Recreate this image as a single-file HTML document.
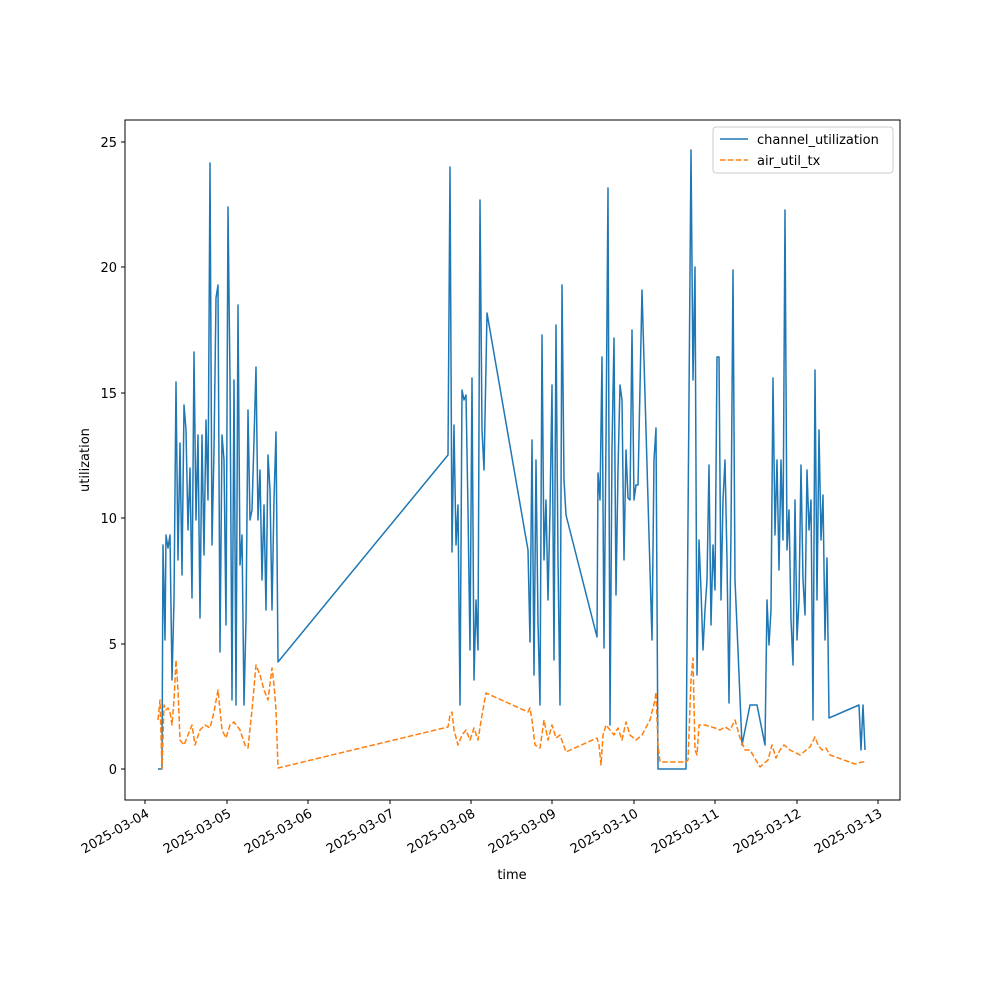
<!DOCTYPE html>
<html><head><meta charset="utf-8"><style>
html,body{margin:0;padding:0;background:#fff;}
svg{display:block;font-family:"DejaVu Sans","Liberation Sans",sans-serif;}
</style></head><body>
<svg width="1000" height="1000" viewBox="0 0 1000 1000" xmlns="http://www.w3.org/2000/svg">
<rect width="1000" height="1000" fill="#fff"/>
<defs><clipPath id="c"><rect x="125" y="120" width="775" height="680"/></clipPath></defs>
<g clip-path="url(#c)">
<polyline fill="none" stroke="#1f77b4" stroke-width="1.5" stroke-linejoin="round" points="158,769 162,769 163,545 165,640 166,535 168,548 170,535 172,680 174,600 176,382 178,560 180,443 182,575 184,405 186,430 188,530 190,468 192,598 194,352 196,520 198,435 200,618 202,435 204,555 206,420 208,500 210,163 212,545 214,450 216,298 218,285 220,652 222,435 224,460 226,625 228,207 230,380 232,700 234,380 236,705 238,305 240,565 242,535 244,705 246,620 248,410 250,520 252,510 254,440 256,367 258,520 260,470 262,580 264,505 266,610 268,455 270,490 272,610 274,500 276,432 278,662 448,455 450,167 452,552 454,425 456,545 458,505 460,705 462,390 464,400 466,395 468,510 470,650 472,378 474,680 476,600 478,650 480,200 482,430 484,470 487,313 528,550 530,642 532,440 534,675 536,460 538,622 540,705 542,335 544,560 546,500 548,600 550,510 552,385 554,660 556,325 558,560 560,705 562,285 564,480 566,515 597,637 598,473 600,500 602,357 604,648 606,440 608,188 610,725 612,447 614,338 616,595 618,470 620,385 622,400 624,560 626,450 628,498 630,500 632,330 634,500 636,485 638,485 642,290 652,640 654,460 656,428 658,769 686,769 691,150 693,380 695,267 697,675 699,540 701,590 703,650 705,610 707,580 709,465 711,625 713,545 715,590 717,357 719,357 721,600 723,500 725,460 727,560 729,703 731,530 733,270 735,580 742,745 750,705 757,705 765,745 767,600 769,645 771,610 773,378 775,535 777,460 779,570 781,460 783,540 785,210 787,550 789,510 791,620 793,665 795,500 797,640 799,600 801,465 803,580 805,615 807,470 809,530 811,500 813,720 815,370 817,600 819,430 821,540 823,495 825,640 827,558 829,718 859,705 861,750 863,705 865,750"/>
<polyline fill="none" stroke="#ff7f0e" stroke-width="1.5" stroke-dasharray="5.5,2.4" stroke-linejoin="round" points="158,720 160,700 162,769 164,705 166,710 168,708 170,712 172,725 174,700 176,660 178,690 180,740 184,745 188,735 192,725 195,745 200,730 205,725 210,728 214,712 218,690 222,730 226,738 230,725 234,722 240,730 245,745 248,748 252,710 256,665 260,675 264,690 268,700 272,668 274,685 276,710 278,768 448,727 450,715 452,712 454,730 458,745 462,735 466,730 470,740 474,728 478,740 482,715 486,693 528,712 530,708 532,720 535,745 540,748 544,720 548,740 552,725 556,738 560,735 566,752 597,738 599,745 601,765 603,735 606,725 610,730 614,735 618,728 622,740 626,722 630,735 636,740 642,735 650,720 655,700 656,692 658,745 660,762 686,762 688,760 691,680 693,658 695,750 697,755 699,725 705,725 715,728 720,730 725,727 730,730 735,720 740,738 745,750 750,750 760,767 768,760 772,745 776,758 780,750 784,745 790,750 800,755 810,747 815,737 818,745 822,750 826,748 830,755 855,764 862,762 865,762"/>
</g>
<rect x="125" y="120" width="775" height="680" fill="none" stroke="#000" stroke-width="1"/>
<g stroke="#000" stroke-width="1">
<line x1="125" y1="769" x2="121" y2="769"/><line x1="125" y1="644" x2="121" y2="644"/><line x1="125" y1="518" x2="121" y2="518"/><line x1="125" y1="393" x2="121" y2="393"/><line x1="125" y1="267" x2="121" y2="267"/><line x1="125" y1="142" x2="121" y2="142"/>
<line x1="145" y1="800" x2="145" y2="804"/><line x1="227" y1="800" x2="227" y2="804"/><line x1="308" y1="800" x2="308" y2="804"/><line x1="390" y1="800" x2="390" y2="804"/><line x1="471" y1="800" x2="471" y2="804"/><line x1="552" y1="800" x2="552" y2="804"/><line x1="634" y1="800" x2="634" y2="804"/><line x1="715" y1="800" x2="715" y2="804"/><line x1="797" y1="800" x2="797" y2="804"/><line x1="878" y1="800" x2="878" y2="804"/>
</g>
<g font-size="13" text-anchor="end" fill="#000">
<text x="117" y="774">0</text><text x="117" y="649">5</text><text x="117" y="523">10</text><text x="117" y="398">15</text><text x="117" y="272">20</text><text x="117" y="147">25</text>
</g>
<g font-size="13" text-anchor="end" fill="#000">
<text transform="translate(150,816) rotate(-30)">2025-03-04</text>
<text transform="translate(232,816) rotate(-30)">2025-03-05</text>
<text transform="translate(313,816) rotate(-30)">2025-03-06</text>
<text transform="translate(395,816) rotate(-30)">2025-03-07</text>
<text transform="translate(476,816) rotate(-30)">2025-03-08</text>
<text transform="translate(557,816) rotate(-30)">2025-03-09</text>
<text transform="translate(639,816) rotate(-30)">2025-03-10</text>
<text transform="translate(720,816) rotate(-30)">2025-03-11</text>
<text transform="translate(802,816) rotate(-30)">2025-03-12</text>
<text transform="translate(883,816) rotate(-30)">2025-03-13</text>
</g>
<text x="512" y="879" font-size="13" text-anchor="middle">time</text>
<text transform="translate(89,460) rotate(-90)" font-size="13" text-anchor="middle">utilization</text>
<rect x="713" y="127" width="180" height="46" fill="#fff" stroke="#ccc" rx="3"/>
<line x1="720" y1="139" x2="748" y2="139" stroke="#1f77b4" stroke-width="1.5"/>
<line x1="720" y1="160" x2="748" y2="160" stroke="#ff7f0e" stroke-width="1.5" stroke-dasharray="5.5,2.4"/>
<text x="757" y="144" font-size="13">channel_utilization</text>
<text x="757" y="165" font-size="13">air_util_tx</text>
</svg>
</body></html>
